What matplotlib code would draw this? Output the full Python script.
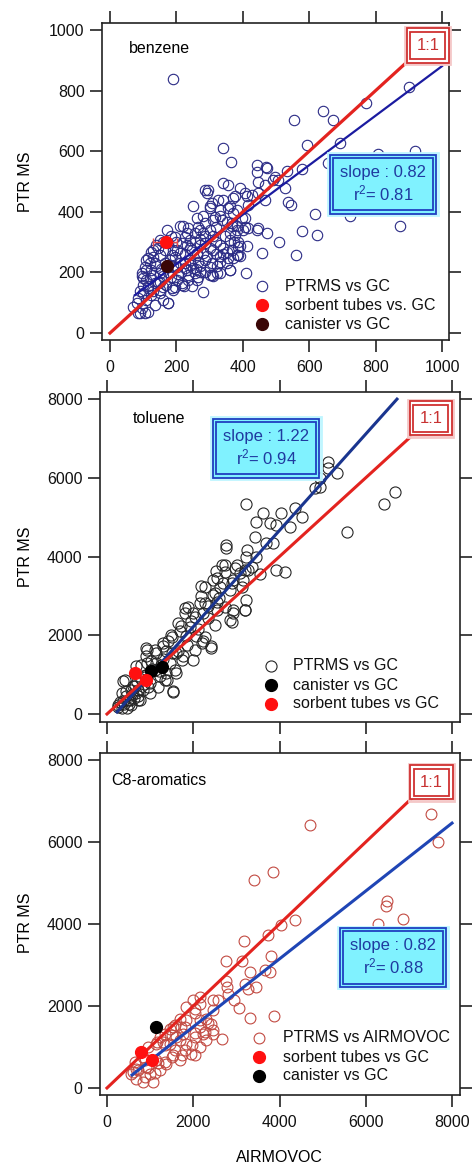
import matplotlib
matplotlib.use("Agg")
import matplotlib.pyplot as plt
import numpy as np

plt.rcParams['font.family'] = ['Liberation Sans', 'DejaVu Sans']
plt.rcParams['mathtext.fontset'] = 'custom'
plt.rcParams['mathtext.rm'] = 'Liberation Sans'
plt.rcParams['mathtext.it'] = 'Liberation Sans'

# ---------------- benzene (GC vs PTR MS) ----------------
benz_xy = [
    (191, 837), (339, 610), (364, 564), (555, 703), (641, 734), (671, 703), (771, 760),
    (900, 811), (919, 602), (592, 619), (693, 626), (808, 591), (658, 560), (723, 387),
    (578, 542), (532, 536), (507, 505), (527, 478), (537, 432), (545, 423), (617, 392),
    (622, 324), (577, 338), (510, 302), (472, 330), (447, 346), (457, 264), (560, 256),
    (411, 198), (873, 354), (442, 553), (442, 531), (470, 549), (467, 489), (492, 505),
    (447, 500), (445, 462), (467, 440), (392, 480), (412, 451), (376, 451), (341, 495),
    (354, 489), (291, 462), (296, 473), (249, 418), (301, 418), (326, 440), (361, 418),
    (371, 396), (407, 379), (417, 348), (376, 324), (387, 302), (412, 286), (387, 258),
    (361, 209), (321, 198), (301, 192), (261, 176), (222, 154), (472, 543), (497, 516),
    (286, 472), (407, 461), (427, 455), (371, 444), (341, 439), (306, 428), (301, 411),
    (331, 406), (356, 411), (382, 406), (417, 422), (316, 384), (336, 373), (367, 362),
    (397, 378), (407, 351), (382, 340), (286, 362), (266, 351), (236, 345), (211, 353),
    (256, 329), (226, 318), (196, 318), (171, 340), (286, 296), (311, 274), (341, 280),
    (367, 274), (387, 285), (382, 257), (356, 247), (331, 236), (306, 230), (286, 241),
    (261, 257), (246, 274), (231, 290), (216, 296), (201, 274), (186, 257), (166, 274),
    (146, 280), (125, 269), (115, 247), (136, 230), (151, 257), (286, 202), (256, 197),
    (226, 213), (201, 219), (176, 202), (151, 197), (125, 208), (105, 219), (95, 197),
    (110, 175), (136, 164), (161, 153), (186, 147), (216, 164), (236, 175), (266, 186),
    (306, 191), (331, 197), (361, 208), (301, 219), (115, 147), (100, 131), (85, 115),
    (80, 98), (95, 82), (115, 70), (136, 92), (161, 109), (176, 98), (151, 131), (125, 125),
    (70, 87), (85, 65), (105, 65), (196, 153), (90, 66), (176, 99), (221, 352), (231, 330),
    (271, 341), (281, 330), (311, 319), (331, 291), (351, 269), (331, 253), (271, 220),
    (241, 242), (261, 264), (291, 253), (231, 209), (191, 220), (211, 264), (271, 203),
    (321, 220), (351, 231), (371, 247), (392, 253), (311, 187), (392, 286), (361, 308),
    (271, 291), (241, 308), (191, 275), (176, 297), (151, 308), (130, 275), (120, 231),
    (140, 220), (161, 187), (201, 176), (216, 159), (246, 154), (281, 137), (191, 143),
    (151, 143), (115, 154), (95, 187), (110, 209), (100, 159), (442, 341), (402, 341),
    (382, 352), (367, 352), (351, 368), (331, 385), (311, 374), (281, 385), (261, 379),
    (120, 180), (130, 190), (145, 170), (155, 210), (165, 230), (180, 240), (195, 250),
    (210, 230), (225, 260), (240, 280), (255, 300), (270, 310), (285, 320), (300, 340),
    (320, 350), (215, 200), (235, 190), (250, 215), (265, 235), (280, 265), (300, 280),
    (320, 300), (345, 320), (360, 330), (375, 300), (340, 260), (320, 260), (200, 300),
    (185, 320), (160, 300), (140, 290), (130, 250), (110, 240), (100, 180), (90, 140),
    (110, 110), (130, 140), (150, 170), (170, 160), (185, 185), (205, 195), (225, 230),
    (245, 225), (260, 210),
]
benz_x = [p[0] for p in benz_xy]
benz_y = [p[1] for p in benz_xy]
benz_sorb_x, benz_sorb_y = [168], [300]
benz_sorb_err = [[38], [33]]
benz_can_x, benz_can_y = [171], [220]
benz_fit = (0.817, 63.7, 75, 1000)     # slope, intercept, xmin, xmax
benz_one = 895

# ---------------- toluene ----------------
tol_xy = [
    (3219, 5328), (5130, 6410), (5130, 6241), (5323, 6131), (4936, 5988), (4936, 5776),
    (4820, 5734), (4356, 5243), (4511, 5015), (4240, 4761), (4031, 5100), (3621, 5100),
    (3466, 4888), (3775, 4846), (3930, 4803), (3853, 4338), (3698, 4338), (3428, 4507),
    (3250, 4169), (3234, 4000), (3466, 4000), (2754, 4296), (2754, 4211), (6422, 5336),
    (6677, 5632), (5571, 4634), (3915, 3662), (4124, 3594), (3544, 3552), (3273, 3662),
    (3080, 3577), (2963, 3704), (2731, 3789), (2538, 3620), (2460, 3408), (2692, 3324),
    (2847, 3154), (2925, 3408), (3157, 3408), (2189, 3239), (2189, 2985), (2460, 3028),
    (2158, 2816), (2352, 2732), (2545, 2647), (2925, 2647), (3234, 2901), (3196, 2647),
    (2847, 2393), (2925, 2562), (1803, 2689), (1996, 2562), (2228, 2562), (1958, 2351),
    (1725, 2224), (1493, 2013), (1687, 2097), (1841, 1970), (2073, 1970), (2228, 1844),
    (2421, 1717), (2421, 1674), (1996, 1378), (1764, 1463), (1609, 1548), (1416, 1844),
    (1300, 1717), (1377, 1590), (1145, 1548), (913, 1674), (1145, 1294), (913, 1463),
    (1029, 1336), (797, 1252), (681, 1209), (371, 829), (1609, 1040), (1532, 575),
    (1338, 871), (1377, 1040), (1222, 956), (836, 617), (990, 533), (681, 533), (449, 575),
    (526, 364), (371, 321), (255, 237), (565, 237), (758, 364), (603, 702), (720, 449),
    (2659, 3784), (2736, 3615), (3007, 3784), (3200, 3657), (3355, 3742), (2543, 3446),
    (2620, 3233), (2891, 3318), (3123, 3233), (2272, 3233), (2504, 3065), (2272, 2811),
    (2543, 2853), (2736, 2726), (3200, 2642), (2891, 2345), (2504, 2260), (1886, 2726),
    (1809, 2557), (2040, 2472), (1654, 2303), (1925, 2218), (2272, 1963), (2195, 1795),
    (2040, 1625), (1500, 1963), (1306, 1795), (1113, 1625), (920, 1625), (1500, 1541),
    (1732, 1371), (1577, 1117), (1384, 863), (1189, 693), (958, 693), (726, 610), (417, 863),
    (340, 525), (494, 356), (726, 356), (262, 186), (456, 145), (881, 947), (1113, 1117),
    (920, 1287), (1538, 566), (300, 300), (450, 450), (550, 600), (650, 700), (800, 900),
    (350, 150), (500, 250), (620, 400), (900, 1000), (1000, 800), (1200, 1100), (1300, 1400),
    (400, 250), (580, 480), (700, 820), (850, 760), (1050, 1150), (1250, 1250), (1450, 1300),
    (1650, 1600), (1850, 1750), (2100, 2150), (2350, 2450), (2600, 2950),
]
tol_x = [p[0] for p in tol_xy]
tol_y = [p[1] for p in tol_xy]
tol_can_x, tol_can_y = [1030, 1285], [1090, 1195]
tol_sorb_x, tol_sorb_y = [645, 915], [1045, 855]
tol_fit = (1.224, -233, 232, 6724)
tol_one = 7030

# ---------------- C8-aromatics ----------------
c8_xy = [
    (4704, 6406), (7513, 6691), (7683, 6000), (3838, 5268), (3404, 5065), (4356, 4106),
    (4031, 3967), (3737, 3740), (3180, 3585), (3814, 3211), (2754, 3098), (3141, 3098),
    (3311, 2829), (3791, 2829), (3660, 2870), (2754, 2610), (2785, 2463), (3195, 2545),
    (3273, 2423), (3466, 2463), (2800, 2301), (2955, 2138), (3064, 1959), (3327, 1715),
    (3868, 1748), (6483, 4561), (6460, 4431), (6870, 4130), (6290, 3992), (2677, 1203),
    (2460, 1325), (2460, 2138), (2460, 1911), (2421, 1569), (2151, 1488), (2151, 1000),
    (1996, 2138), (2151, 2057), (2035, 1935), (1841, 1976), (1841, 1650), (1687, 1691),
    (1532, 1488), (1764, 1325), (1841, 1081), (1957, 837), (1687, 675), (1532, 797),
    (1455, 1081), (1300, 1122), (1338, 1325), (1455, 1447), (1145, 1081), (952, 1000),
    (836, 756), (1145, 675), (1377, 594), (1222, 431), (990, 350), (1068, 146), (836, 146),
    (681, 228), (565, 350), (681, 472), (913, 512), (2228, 1325), (2306, 1163), (2035, 1244),
    (2151, 1650), (2306, 1691), (2576, 2138), (2151, 2220), (1718, 1488), (1609, 1244),
    (2040, 1821), (2350, 1577), (2465, 1415), (2272, 1374), (2040, 1333), (1809, 1496),
    (1577, 1537), (1500, 1293), (1693, 1171), (1963, 1049), (1809, 927), (1577, 927),
    (1345, 1049), (1229, 1252), (1152, 1130), (1500, 764), (1345, 642), (1190, 602),
    (958, 480), (726, 439), (649, 642), (881, 683), (1113, 358), (881, 276), (610, 398),
    (2040, 805), (1732, 805),
]
c8_x = [p[0] for p in c8_xy]
c8_y = [p[1] for p in c8_xy]
c8_sorb_x, c8_sorb_y = [795, 1040], [890, 690]
c8_can_x, c8_can_y = [1140], [1485]
c8_fit = (0.828, -163, 580, 8000)
c8_one = 7060

RED = '#e3231f'
CYAN = '#80f2ff'


def double_box(ax, x, y, txt, tc, ec, fc, fs, pads, glow):
    outer, inner = pads
    ax.text(x, y, txt, transform=ax.transAxes, ha='center', va='center', color='none',
            fontsize=fs, multialignment='center', zorder=6,
            bbox=dict(boxstyle='square,pad=%.2f' % (outer + 0.08), fc='none', ec=glow, lw=2.0))
    ax.text(x, y, txt, transform=ax.transAxes, ha='center', va='center', color='none',
            fontsize=fs, multialignment='center', zorder=7,
            bbox=dict(boxstyle='square,pad=%.2f' % outer, fc=fc, ec=ec, lw=1.3))
    ax.text(x, y, txt, transform=ax.transAxes, ha='center', va='center', color=tc,
            fontsize=fs, multialignment='center', zorder=8,
            bbox=dict(boxstyle='square,pad=%.2f' % inner, fc=fc, ec=ec, lw=1.3))


def style(ax, xlim, ylim, ticks, labelbottom=True):
    ax.set_xlim(*xlim)
    ax.set_ylim(*ylim)
    ax.set_xticks(ticks)
    ax.set_yticks(ticks)
    ax.tick_params(direction='out', length=8.5, width=1.1, top=True, right=True,
                   labeltop=False, labelright=False, labelsize=11.5, colors='#111111')
    ax.tick_params(axis='x', pad=6, labelbottom=labelbottom)
    ax.tick_params(axis='y', pad=4)
    for s in ax.spines.values():
        s.set_linewidth(1.2)
        s.set_color('#222222')


def legend(ax, xm, xt, ys, entries):
    for yy, (mk, label) in zip(ys, entries):
        ax.plot([xm], [yy], transform=ax.transAxes, **mk, zorder=5)
        ax.text(xt, yy, label, transform=ax.transAxes, ha='left', va='center',
                fontsize=11.5, color='#111111')


fig = plt.figure(figsize=(4.72, 11.71), dpi=100)
W, H = 472, 1171

# panel 1
ax1 = fig.add_axes([102 / W, 1 - 340 / H, 347 / W, 317 / H])
ax1.plot(benz_x, benz_y, 'o', ms=7.5, mfc='none', mec='#2b2b85', mew=0.8, zorder=2)
s, b, x0, x1 = benz_fit
ax1.plot([x0, x1], [s * x0 + b, s * x1 + b], color='#1b1ba0', lw=1.6, zorder=3)
ax1.plot([0, benz_one], [0, benz_one], color=RED, lw=2.3, zorder=3)
ax1.errorbar(benz_sorb_x, benz_sorb_y, xerr=benz_sorb_err, fmt='none', ecolor='#e84a4a',
             elinewidth=1, capsize=3, zorder=4)
ax1.plot(benz_sorb_x, benz_sorb_y, 'o', ms=8.5, color='#ff1010', zorder=5)
ax1.plot(benz_can_x, benz_can_y, 'o', ms=8.5, color='#3a0606', zorder=5)
style(ax1, (-24, 1021), (-23, 1023), [0, 200, 400, 600, 800, 1000])
ax1.text(0.078, 0.918, 'benzene', transform=ax1.transAxes, fontsize=11.5, va='center')
double_box(ax1, 0.810, 0.492, 'slope : 0.82\nr$^2$= 0.81', '#1f3aa0', '#1f3fc0', CYAN, 12,
           (0.62, 0.42), '#bff6ff')
double_box(ax1, 0.939, 0.929, '1:1', '#c83232', '#d03030', 'white', 12, (0.58, 0.36), '#f4c8c8')
legend(ax1, 0.461, 0.527, [0.170, 0.110, 0.050], [
    (dict(marker='o', ms=7.5, mfc='none', mec='#2b2b85', mew=0.8, ls='none'), 'PTRMS vs GC'),
    (dict(marker='o', ms=8.5, color='#ff1010', ls='none'), 'sorbent tubes vs. GC'),
    (dict(marker='o', ms=8.5, color='#3a0606', ls='none'), 'canister vs GC'),
])

# panel 2
ax2 = fig.add_axes([100 / W, 1 - 722 / H, 360 / W, 330 / H])
ax2.plot(tol_x, tol_y, 'o', ms=8, mfc='none', mec='#262626', mew=0.8, zorder=2)
s, b, x0, x1 = tol_fit
ax2.plot([x0, x1], [s * x0 + b, s * x1 + b], color='#1a358f', lw=2.2, zorder=3)
ax2.plot([0, tol_one], [0, tol_one], color=RED, lw=2.2, zorder=3)
ax2.plot(tol_can_x, tol_can_y, 'o', ms=8.5, color='black', zorder=5)
ax2.plot(tol_sorb_x, tol_sorb_y, 'o', ms=8.5, color='#ff1010', zorder=5)
style(ax2, (-162, 8185), (-203, 8178), [0, 2000, 4000, 6000, 8000], labelbottom=False)
ax2.text(0.092, 0.921, 'toluene', transform=ax2.transAxes, fontsize=11.5, va='center')
double_box(ax2, 0.461, 0.830, 'slope : 1.22\nr$^2$= 0.94', '#1f3aa0', '#1f3fc0', CYAN, 12,
           (0.62, 0.42), '#bff6ff')
double_box(ax2, 0.919, 0.921, '1:1', '#c83232', '#d03030', 'white', 12, (0.58, 0.36), '#f4c8c8')
legend(ax2, 0.475, 0.536, [0.170, 0.112, 0.055], [
    (dict(marker='o', ms=8, mfc='none', mec='#262626', mew=0.8, ls='none'), 'PTRMS vs GC'),
    (dict(marker='o', ms=8.5, color='black', ls='none'), 'canister vs GC'),
    (dict(marker='o', ms=8.5, color='#ff1010', ls='none'), 'sorbent tubes vs GC'),
])

# panel 3
ax3 = fig.add_axes([100 / W, 1 - 1095 / H, 360 / W, 342 / H])
ax3.plot(c8_x, c8_y, 'o', ms=7.8, mfc='none', mec='#c24a42', mew=0.8, zorder=2)
s, b, x0, x1 = c8_fit
ax3.plot([x0, x1], [s * x0 + b, s * x1 + b], color='#1f45b5', lw=2.2, zorder=3)
ax3.plot([0, c8_one], [0, c8_one], color=RED, lw=2.2, zorder=3)
ax3.plot(c8_sorb_x, c8_sorb_y, 'o', ms=8.5, color='#ff1010', zorder=5)
ax3.plot(c8_can_x, c8_can_y, 'o', ms=8.5, color='black', zorder=5)
style(ax3, (-162, 8185), (-171, 8171), [0, 2000, 4000, 6000, 8000])
ax3.text(0.031, 0.921, 'C8-aromatics', transform=ax3.transAxes, fontsize=11.5, va='center')
double_box(ax3, 0.814, 0.402, 'slope : 0.82\nr$^2$= 0.88', '#1f3aa0', '#1f3fc0', CYAN, 12,
           (0.62, 0.42), '#bff6ff')
double_box(ax3, 0.921, 0.915, '1:1', '#c83232', '#d03030', 'white', 12, (0.58, 0.36), '#f4c8c8')
legend(ax3, 0.442, 0.508, [0.167, 0.111, 0.056], [
    (dict(marker='o', ms=7.8, mfc='none', mec='#c24a42', mew=0.8, ls='none'), 'PTRMS vs AIRMOVOC'),
    (dict(marker='o', ms=8.5, color='#ff1010', ls='none'), 'sorbent tubes vs GC'),
    (dict(marker='o', ms=8.5, color='black', ls='none'), 'canister vs GC'),
])

for yc in (182, 557, 923):
    fig.text(25 / W, 1 - yc / H, 'PTR MS', rotation=90, ha='center', va='center', fontsize=11.5)
fig.text(279 / W, 1 - 1158 / H, 'AIRMOVOC', ha='center', va='center', fontsize=11.5)

fig.savefig('out.png', dpi=100)
